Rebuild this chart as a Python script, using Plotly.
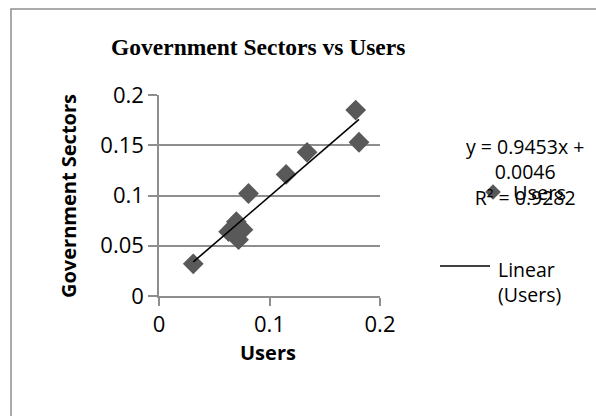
import plotly.graph_objects as go

# ---- data ----
users = [0.031, 0.063, 0.070, 0.072, 0.076, 0.081, 0.115, 0.134, 0.178, 0.181]
gov_sectors = [0.032, 0.064, 0.074, 0.056, 0.066, 0.102, 0.121, 0.143, 0.185, 0.153]
slope = 0.9453
intercept = 0.0046
r_squared = 0.9282
x_ticks = [0, 0.1, 0.2]
y_ticks = [0, 0.05, 0.1, 0.15, 0.2]
x_tick_labels = ["0", "0.1", "0.2"]
y_tick_labels = ["0", "0.05", "0.1", "0.15", "0.2"]

W, H = 596, 416
PX0, PX1 = 159, 380   # plot area left/right in pixels
PYT, PYB = 95, 296    # plot area top/bottom in pixels


def fx(px):
    return (px - PX0) / (PX1 - PX0)


def fy(py):
    return (PYB - py) / (PYB - PYT)


FONT = "Open Sans"
GRAY = "#8e8e8e"
MARK = "#595959"

trend_x = [min(users), max(users)]
trend_y = [slope * v + intercept for v in trend_x]

fig = go.Figure()
fig.add_trace(go.Scatter(
    x=users, y=gov_sectors, mode="markers", name="Users",
    marker=dict(symbol="diamond", size=16, color=MARK),
    showlegend=True, cliponaxis=False,
))
fig.add_trace(go.Scatter(
    x=trend_x, y=trend_y, mode="lines", name="Linear (Users)",
    line=dict(color="black", width=1.6), showlegend=False,
))

fig.update_layout(
    width=W, height=H,
    margin=dict(l=PX0, r=W - PX1, t=PYT, b=H - PYB),
    paper_bgcolor="white", plot_bgcolor="white",
    font=dict(family=FONT, size=20, color="black"),
    legend=dict(
        x=fx(473), y=fy(192), xanchor="left", yanchor="middle",
        bgcolor="rgba(0,0,0,0)", font=dict(size=20, family=FONT),
        itemsizing="constant",
    ),
    xaxis=dict(
        range=[0, 0.2], tickvals=x_ticks, ticktext=x_tick_labels,
        showgrid=False, zeroline=False, showline=True, linecolor=GRAY, linewidth=1.5,
        ticks="outside", ticklen=8, tickcolor=GRAY, tickwidth=1.5,
        ticklabelstandoff=0, tickfont=dict(size=22, family=FONT),
    ),
    yaxis=dict(
        range=[0, 0.2], tickvals=y_ticks, ticktext=y_tick_labels,
        showgrid=True, gridcolor=GRAY, gridwidth=1.5, zeroline=False,
        showline=True, linecolor=GRAY, linewidth=1.5,
        ticks="outside", ticklen=9, tickcolor=GRAY, tickwidth=1.5,
        ticklabelstandoff=0, tickfont=dict(size=22, family=FONT),
    ),
    shapes=[
        dict(type="rect", xref="paper", yref="paper",
             x0=fx(11), y0=fy(9), x1=fx(W + 20), y1=fy(H + 20),
             line=dict(color=GRAY, width=1.5), fillcolor="rgba(0,0,0,0)", layer="below"),
        dict(type="line", xref="paper", yref="paper",
             x0=fx(440), x1=fx(490), y0=fy(266), y1=fy(266),
             line=dict(color="black", width=1.6)),
    ],
    annotations=[
        dict(text="<b>Government Sectors vs Users</b>", xref="paper", yref="paper",
             x=fx(258), y=fy(47), xanchor="center", yanchor="middle", showarrow=False,
             font=dict(family="Liberation Serif", size=23.5, color="black")),
        dict(text="<b>Government Sectors</b>", xref="paper", yref="paper",
             x=fx(68), y=fy(196), xanchor="center", yanchor="middle", showarrow=False,
             textangle=-90, font=dict(family=FONT, size=20)),
        dict(text="<b>Users</b>", xref="paper", yref="paper",
             x=fx(268), y=fy(352), xanchor="center", yanchor="middle", showarrow=False,
             font=dict(family=FONT, size=20)),
        dict(text=f"y = {slope:.4f}x +<br>{intercept:.4f}<br>R² = {r_squared:.4f}",
             xref="paper", yref="paper", x=fx(525), y=fy(172), xanchor="center",
             yanchor="middle", align="center", showarrow=False,
             font=dict(family=FONT, size=19.5)),
        dict(text="Linear<br>(Users)", xref="paper", yref="paper",
             x=fx(496), y=fy(254), xanchor="left", yanchor="top", align="left",
             showarrow=False, font=dict(family=FONT, size=19.5)),
    ],
)

fig.write_html("out.html")
